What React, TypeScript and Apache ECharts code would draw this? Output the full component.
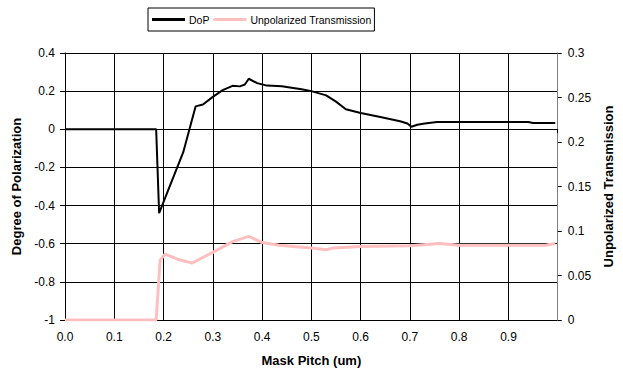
import React, { useEffect, useRef } from "react";
import * as echarts from "echarts";

const dopX = [0, 0.185, 0.191, 0.24, 0.265, 0.28, 0.3, 0.32, 0.34, 0.355, 0.365, 0.373, 0.39, 0.41, 0.44, 0.46, 0.48, 0.5, 0.53, 0.55, 0.57, 0.6, 0.64, 0.68, 0.695, 0.703, 0.715, 0.73, 0.755, 0.94, 0.95, 0.995];
const dopY = [0, 0, -0.44, -0.12, 0.12, 0.13, 0.17, 0.205, 0.228, 0.225, 0.235, 0.265, 0.242, 0.229, 0.226, 0.218, 0.21, 0.2, 0.178, 0.145, 0.105, 0.085, 0.064, 0.042, 0.03, 0.013, 0.024, 0.03, 0.038, 0.038, 0.033, 0.033];

const transX = [0, 0.185, 0.193, 0.203, 0.23, 0.258, 0.3, 0.34, 0.373, 0.4, 0.435, 0.475, 0.505, 0.53, 0.545, 0.6, 0.7, 0.76, 0.8, 0.975, 0.995];
const transY = [0, 0, 0.067, 0.074, 0.068, 0.064, 0.076, 0.088, 0.094, 0.087, 0.084, 0.082, 0.0805, 0.079, 0.081, 0.0825, 0.0835, 0.086, 0.084, 0.084, 0.086];

const seriesNames = ["DoP", "Unpolarized Transmission"];
const axisTitles = ["Mask Pitch (um)", "Degree of Polarization", "Unpolarized Transmission"];

export default function App() {
  const ref = useRef<HTMLDivElement>(null);
  useEffect(() => {
    if (!ref.current) return;
    const chart = echarts.init(ref.current, null, { renderer: "svg" });
    const font = "'Liberation Sans', Arial, sans-serif";
    const titleStyle = { fontFamily: font, fontSize: 13, fontWeight: "bold", color: "#000" };
    const tickStyle = { fontFamily: font, fontSize: 12, color: "#000" };
    chart.setOption({
      animation: false,
      backgroundColor: "#fff",
      textStyle: { fontFamily: font },
      legend: {
        left: 148,
        top: 8,
        padding: [6, 3, 6, 4],
        borderColor: "#000",
        borderWidth: 1,
        itemGap: 4,
        itemWidth: 33,
        itemHeight: 3,
        textStyle: { fontFamily: font, fontSize: 10.5, color: "#000", padding: [0, 0, 0, -1] },
        data: [
          { name: seriesNames[0], icon: "rect", itemStyle: { color: "#000" } },
          { name: seriesNames[1], icon: "rect", itemStyle: { color: "#FFBFBF" } },
        ],
      },
      grid: { left: 65, right: 64, top: 53, bottom: 52 },
      xAxis: {
        type: "value",
        min: 0,
        max: 1,
        interval: 0.1,
        name: axisTitles[0],
        nameLocation: "middle",
        nameGap: 34,
        nameTextStyle: titleStyle,
        axisLine: { show: true, lineStyle: { color: "#000" } },
        axisTick: { show: true, length: 4, lineStyle: { color: "#000" } },
        axisLabel: {
          ...tickStyle,
          margin: 11,
          formatter: (v: number) => (v > 0.999 ? "" : v.toFixed(1)),
        },
        splitLine: { show: true, lineStyle: { color: "#000", width: 1 } },
      },
      yAxis: [
        {
          type: "value",
          min: -1,
          max: 0.4,
          interval: 0.2,
          name: axisTitles[1],
          nameLocation: "middle",
          nameRotate: 90,
          nameGap: 40,
          nameTextStyle: titleStyle,
          axisLine: { show: true, lineStyle: { color: "#000" } },
          axisTick: { show: true, length: 5, lineStyle: { color: "#000" } },
          axisLabel: {
            ...tickStyle,
            margin: 10,
            formatter: (v: number) => String(Math.round(v * 10) / 10),
          },
          splitLine: { show: true, lineStyle: { color: "#000", width: 1 } },
        },
        {
          type: "value",
          min: 0,
          max: 0.3,
          interval: 0.05,
          position: "right",
          name: axisTitles[2],
          nameLocation: "middle",
          nameRotate: 90,
          nameGap: 41,
          nameTextStyle: titleStyle,
          axisLine: { show: true, lineStyle: { color: "#808080" } },
          axisTick: { show: true, length: 4, lineStyle: { color: "#000" } },
          axisLabel: {
            ...tickStyle,
            margin: 10,
            formatter: (v: number) => String(Math.round(v * 100) / 100),
          },
          splitLine: { show: false },
        },
      ],
      series: [
        {
          name: seriesNames[0],
          type: "line",
          yAxisIndex: 0,
          showSymbol: false,
          symbol: "none",
          lineStyle: { color: "#000", width: 2 },
          itemStyle: { color: "#000" },
          data: dopX.map((x, i) => [x, dopY[i]]),
          z: 3,
        },
        {
          name: seriesNames[1],
          type: "line",
          yAxisIndex: 1,
          showSymbol: false,
          symbol: "none",
          lineStyle: { color: "#FFBFBF", width: 3 },
          itemStyle: { color: "#FFBFBF" },
          data: transX.map((x, i) => [x, transY[i]]),
          z: 2,
        },
      ],
    });
    return () => chart.dispose();
  }, []);
  return <div ref={ref} style={{ width: 623, height: 372, position: "absolute", left: 0, top: 0 }} />;
}
